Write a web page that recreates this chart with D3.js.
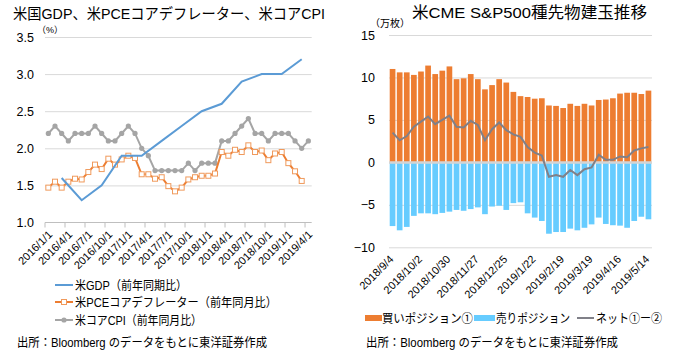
<!DOCTYPE html>
<html>
<head>
<meta charset="utf-8">
<script src="https://cdn.jsdelivr.net/npm/d3@7"></script>
<style>
  body { margin: 0; background: #fff; }
  svg text { font-family: "Liberation Sans", "Noto Sans CJK JP", sans-serif; fill: #000; }
</style>
</head>
<body>
<div id="chart"></div>
<script>
// ---- left chart data (%)
const months = d3.timeMonth.range(new Date(2016, 0, 1), new Date(2019, 4, 1))
                 .map(d3.timeFormat("%Y/%-m/%-d"));
const monthTicks = ["2016/1/1", "2016/4/1", "2016/7/1", "2016/10/1", "2017/1/1", "2017/4/1", "2017/7/1",
                    "2017/10/1", "2018/1/1", "2018/4/1", "2018/7/1", "2018/10/1", "2019/1/1", "2019/4/1"];
const gdpMonths = ["2016/3/1", "2016/6/1", "2016/9/1", "2016/12/1", "2017/3/1", "2017/6/1", "2017/9/1",
                   "2017/12/1", "2018/3/1", "2018/6/1", "2018/9/1", "2018/12/1", "2019/3/1"];
const gdp = [1.6, 1.3, 1.5, 1.9, 1.9, 2.1, 2.3, 2.5, 2.6, 2.9, 3.0, 3.0, 3.2];
const pce = [1.47, 1.55, 1.47, 1.55, 1.59, 1.58, 1.68, 1.78, 1.72, 1.86,
             1.78, 1.85, 1.90, 1.87, 1.65, 1.65, 1.59, 1.61, 1.49, 1.42,
             1.47, 1.58, 1.61, 1.63, 1.63, 1.66, 1.95, 1.90, 1.98, 1.95,
             2.04, 1.95, 1.97, 1.84, 1.93, 1.95, 1.80, 1.69, 1.56];
const cpi = [2.2, 2.3, 2.2, 2.1, 2.2, 2.2, 2.2, 2.3, 2.2, 2.1,
             2.1, 2.2, 2.3, 2.2, 2.0, 1.9, 1.7, 1.7, 1.7, 1.7,
             1.7, 1.8, 1.7, 1.8, 1.8, 1.8, 2.1, 2.1, 2.2, 2.3,
             2.4, 2.2, 2.2, 2.1, 2.2, 2.2, 2.2, 2.1, 2.0, 2.1];
const yTicksL = [1.0, 1.5, 2.0, 2.5, 3.0, 3.5];

// ---- right chart data (万枚)
const weeks = d3.range(37).map(i => d3.timeFormat("%Y/%-m/%-d")(d3.timeDay.offset(new Date(2018, 8, 4), 7 * i)));
const weekTicks = ["2018/9/4", "2018/10/2", "2018/10/30", "2018/11/27", "2018/12/25",
                   "2019/1/22", "2019/2/19", "2019/3/19", "2019/4/16", "2019/5/14"];
const longPos = [11.0, 10.6, 10.6, 10.3, 10.7, 11.4, 10.4, 10.8, 11.3, 9.8,
                 9.9, 10.4, 9.8, 8.6, 9.1, 9.8, 9.4, 8.3, 7.8, 7.7,
                 7.5, 7.55, 6.7, 6.65, 6.4, 6.9, 6.65, 6.9, 6.7, 7.35,
                 7.4, 7.55, 8.1, 8.2, 8.2, 8.05, 8.45];
const shortPos = [-7.5, -8.0, -7.6, -6.3, -6.0, -6.0, -6.1, -5.95, -5.8, -5.6,
                  -5.7, -5.5, -5.3, -6.1, -5.2, -5.1, -5.6, -4.8, -4.7, -6.0,
                  -6.5, -6.9, -8.4, -8.2, -8.2, -7.8, -8.0, -7.7, -7.3, -6.5,
                  -7.25, -7.4, -7.45, -7.7, -6.9, -6.4, -6.7];
const net = [3.5, 2.6, 3.1, 4.2, 4.8, 5.4, 4.5, 5.0, 5.5, 4.2,
             4.1, 4.9, 4.4, 2.6, 3.9, 4.7, 3.8, 3.3, 3.0, 1.8,
             1.15, 0.8, -1.7, -1.5, -1.7, -0.9, -1.5, -0.8, -0.6, 0.9,
             0.3, 0.3, 0.7, 0.6, 1.4, 1.65, 1.8];
const yTicksR = [-10, -5, 0, 5, 10, 15];

const svg = d3.select("#chart").append("svg")
              .attr("width", 680)
              .attr("height", 350);

// ================= LEFT CHART =================
const xL = d3.scaleBand().domain(months).range([45, 311.7]);
const yL = d3.scaleLinear().domain([1, 3.5]).range([222.5, 37]);
const bwL = xL.bandwidth();

svg.append("text").attr("x", 13).attr("y", 19)
   .attr("textLength", 312).attr("lengthAdjust", "spacingAndGlyphs")
   .style("font-size", "15px")
   .text("米国GDP、米PCEコアデフレーター、米コアCPI");
svg.append("text").attr("x", 37).attr("y", 33).style("font-size", "9px").text("（%）");

const gyL = svg.append("g")
   .attr("transform", "translate(45,0)")
   .call(d3.axisLeft(yL).tickValues(yTicksL).tickSize(-266.7).tickPadding(11).tickFormat(d3.format(".1f")));
gyL.select(".domain").remove();
gyL.selectAll("line").attr("stroke", "#d9d9d9");
gyL.selectAll("text").style("font-size", "12.5px");
gyL.selectAll(".tick").filter(d => d === 1).select("line").remove();

// x axis
svg.append("line")
   .attr("x1", 45).attr("x2", 311.7)
   .attr("y1", yL(1)).attr("y2", yL(1))
   .attr("stroke", "#bfbfbf");
svg.selectAll(".xtickL").data(monthTicks).enter().append("line")
   .attr("x1", d => xL(d)).attr("x2", d => xL(d))
   .attr("y1", yL(1)).attr("y2", yL(1) + 5)
   .attr("stroke", "#bfbfbf");
svg.selectAll(".xlabL").data(monthTicks).enter().append("text")
   .attr("text-anchor", "end")
   .attr("transform", d => `translate(${xL(d) + bwL / 2 + 2},${yL(1) + 10}) rotate(-45)`)
   .attr("dy", "0.35em")
   .style("font-size", "11px")
   .text(d => d);

const lineL = d3.line().x(d => xL(d.m) + bwL / 2).y(d => yL(d.v));
const gdpData = gdpMonths.map((m, i) => ({m, v: gdp[i]}));
const pceData = pce.map((v, i) => ({m: months[i], v}));
const cpiData = cpi.map((v, i) => ({m: months[i], v}));

svg.append("path").datum(cpiData).attr("d", lineL)
   .attr("fill", "none").attr("stroke", "#a5a5a5").attr("stroke-width", 2);
svg.selectAll(".cpiPt").data(cpiData).enter().append("circle")
   .attr("cx", d => xL(d.m) + bwL / 2).attr("cy", d => yL(d.v)).attr("r", 2.6)
   .attr("fill", "#a5a5a5");

svg.append("path").datum(pceData).attr("d", lineL)
   .attr("fill", "none").attr("stroke", "#ed7d31").attr("stroke-width", 2);
svg.selectAll(".pcePt").data(pceData).enter().append("rect")
   .attr("x", d => xL(d.m) + bwL / 2 - 2.5).attr("y", d => yL(d.v) - 2.5)
   .attr("width", 5).attr("height", 5)
   .attr("fill", "#fff").attr("stroke", "#f09a5c").attr("stroke-width", 1);

svg.append("path").datum(gdpData).attr("d", lineL)
   .attr("fill", "none").attr("stroke", "#5b9bd5").attr("stroke-width", 2);

// legend
const legL = [
  {label: "米GDP（前年同期比）", color: "#5b9bd5", mark: null, y: 285, w: 112},
  {label: "米PCEコアデフレーター（前年同月比）", color: "#ed7d31", mark: "rect", y: 302, w: 202},
  {label: "米コアCPI（前年同月比）", color: "#a5a5a5", mark: "circle", y: 320, w: 127}
];
legL.forEach(d => {
  svg.append("line").attr("x1", 55).attr("x2", 73).attr("y1", d.y).attr("y2", d.y)
     .attr("stroke", d.color).attr("stroke-width", 2);
  if (d.mark === "rect") {
    svg.append("rect").attr("x", 61.5).attr("y", d.y - 2.5).attr("width", 5).attr("height", 5)
       .attr("fill", "#fff").attr("stroke", "#f09a5c");
  } else if (d.mark === "circle") {
    svg.append("circle").attr("cx", 64).attr("cy", d.y).attr("r", 2.6).attr("fill", d.color);
  }
  svg.append("text").attr("x", 75).attr("y", d.y + 4.5)
     .attr("textLength", d.w).attr("lengthAdjust", "spacingAndGlyphs")
     .style("font-size", "12.5px").text(d.label);
});

svg.append("text").attr("x", 17).attr("y", 347)
   .attr("textLength", 250).attr("lengthAdjust", "spacingAndGlyphs")
   .style("font-size", "12.5px")
   .text("出所：Bloomberg のデータをもとに東洋証券作成");

// ================= RIGHT CHART =================
const xR = d3.scaleBand().domain(weeks).range([389, 652]).paddingInner(0.2).paddingOuter(0.1);
const yR = d3.scaleLinear().domain([-10, 15]).range([247.3, 35]);

svg.append("text").attr("x", 412).attr("y", 18)
   .attr("textLength", 235).attr("lengthAdjust", "spacingAndGlyphs")
   .style("font-size", "15.5px")
   .text("米CME  S&P500種先物建玉推移");
svg.append("text").attr("x", 370).attr("y", 27).style("font-size", "10px").text("（万枚）");

const gyR = svg.append("g")
   .attr("transform", "translate(389,0)")
   .call(d3.axisLeft(yR).tickValues(yTicksR).tickSize(-263).tickPadding(14));
gyR.select(".domain").remove();
gyR.selectAll("line").attr("stroke", "#d9d9d9");
gyR.selectAll("text").style("font-size", "12.5px");

svg.selectAll(".longBar").data(longPos).enter().append("rect")
   .attr("x", (d, i) => xR(weeks[i]))
   .attr("y", d => yR(d))
   .attr("width", xR.bandwidth())
   .attr("height", d => yR(0) - yR(d))
   .attr("fill", "#ed7d31");
svg.selectAll(".shortBar").data(shortPos).enter().append("rect")
   .attr("x", (d, i) => xR(weeks[i]))
   .attr("y", yR(0))
   .attr("width", xR.bandwidth())
   .attr("height", d => yR(d) - yR(0))
   .attr("fill", "#66ccff");

svg.append("line").attr("x1", 389).attr("x2", 652).attr("y1", yR(0)).attr("y2", yR(0))
   .attr("stroke", "#d4d4d4").attr("stroke-width", 2.5);

svg.append("path").datum(net)
   .attr("d", d3.line().x((d, i) => xR(weeks[i]) + xR.bandwidth() / 2).y(d => yR(d)))
   .attr("fill", "none").attr("stroke", "#808088").attr("stroke-width", 2);

svg.selectAll(".xlabR").data(weekTicks).enter().append("text")
   .attr("text-anchor", "end")
   .attr("transform", d => `translate(${xR(d) + xR.bandwidth() / 2 - 1},${yR(-10) + 10}) rotate(-45)`)
   .attr("dy", "0.35em")
   .style("font-size", "11px")
   .text(d => d);

// legend
svg.append("rect").attr("x", 365).attr("y", 315).attr("width", 17).attr("height", 6).attr("fill", "#ed7d31");
svg.append("text").attr("x", 382).attr("y", 323)
   .attr("textLength", 91).attr("lengthAdjust", "spacingAndGlyphs")
   .style("font-size", "12.5px").text("買いポジション①");
svg.append("rect").attr("x", 474).attr("y", 315).attr("width", 21).attr("height", 6).attr("fill", "#66ccff");
svg.append("text").attr("x", 496).attr("y", 323)
   .attr("textLength", 74).attr("lengthAdjust", "spacingAndGlyphs")
   .style("font-size", "12.5px").text("売りポジション");
svg.append("line").attr("x1", 577).attr("x2", 594).attr("y1", 318).attr("y2", 318)
   .attr("stroke", "#808088").attr("stroke-width", 2);
svg.append("text").attr("x", 596).attr("y", 323)
   .attr("textLength", 66).attr("lengthAdjust", "spacingAndGlyphs")
   .style("font-size", "12.5px").text("ネット①ー②");

svg.append("text").attr("x", 366).attr("y", 347)
   .attr("textLength", 252).attr("lengthAdjust", "spacingAndGlyphs")
   .style("font-size", "12.5px")
   .text("出所：Bloomberg のデータをもとに東洋証券作成");
</script>
</body>
</html>
